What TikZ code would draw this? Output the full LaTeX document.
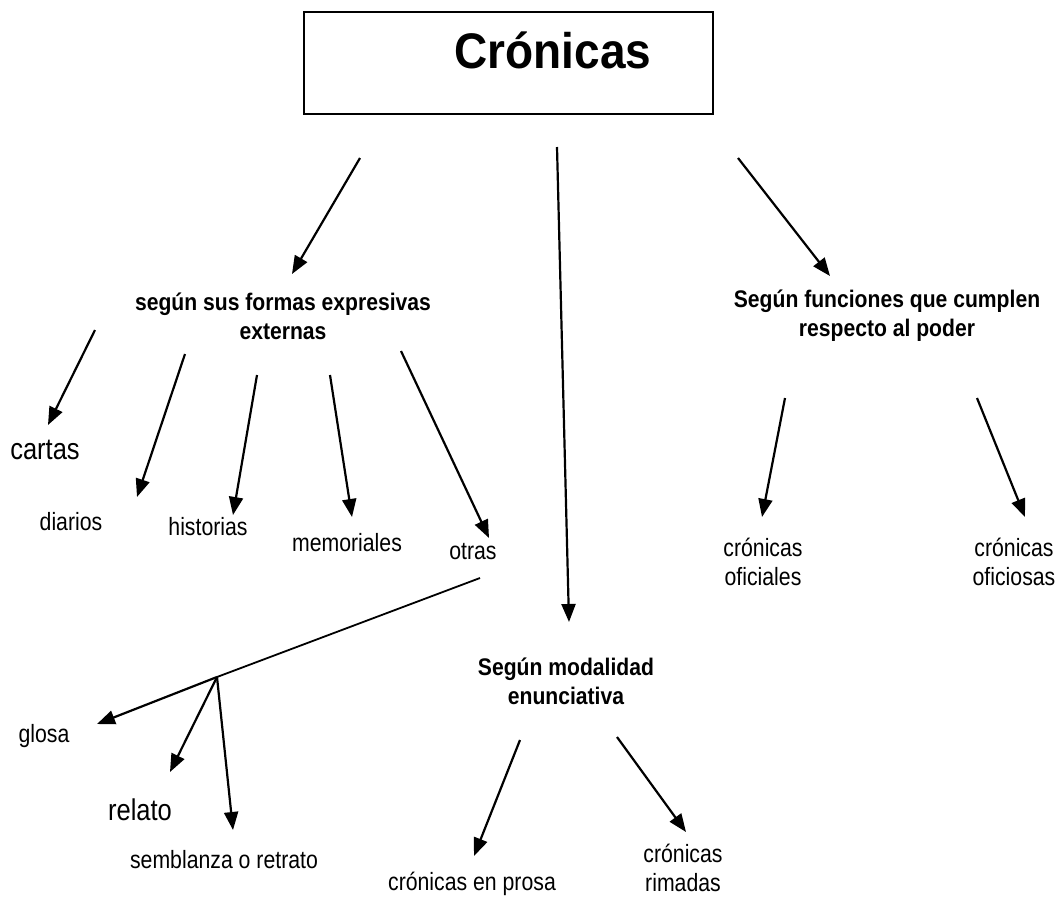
\documentclass[tikz,border=0pt]{standalone}
\usepackage{fontspec}
\setmainfont{Liberation Sans}[FakeStretch=0.85]
\newfontfamily\hdrfont{Liberation Sans}[FakeStretch=0.88]
\newfontfamily\titlefont{Liberation Sans}[FakeStretch=0.92]
\usetikzlibrary{arrows.meta}
\begin{document}
\begin{tikzpicture}[x=1pt,y=-1pt,
  arr/.style={line width=2.2pt,-{Triangle[length=18pt,width=14pt]}},
  thin/.style={line width=1.8pt},
  lbl/.style={font=\fontsize{25}{29}\selectfont, align=center, inner sep=0},
  hdr/.style={font=\hdrfont\bfseries\fontsize{24}{29}\selectfont, align=center, inner sep=0},
  big/.style={font=\fontsize{30}{34}\selectfont, inner sep=0}]
\useasboundingbox[fill=white] (0,0) rectangle (1060,898);
% title box
\node[draw, line width=1.5pt, minimum width=409pt, minimum height=102pt, inner sep=0] (box) at (508.5,63) {};
\node[font=\titlefont\bfseries\fontsize{50}{54}\selectfont, anchor=base, inner sep=0] (title) at (553,68) {Crónicas};
% labels
\node[hdr] (h1) at (283,316) {según sus formas expresivas\\externas};
\node[hdr] (h2) at (887,316) {Según funciones que cumplen\\respecto al poder};
\node[hdr] (h3) at (566,681) {Según modalidad\\enunciativa};
\node[big] (cartas) at (45,450) {cartas};
\node[lbl] (diarios) at (71,522) {diarios};
\node[lbl] (historias) at (208,527) {historias};
\node[lbl] (memoriales) at (347,543) {memoriales};
\node[lbl] (otras) at (473,552) {otras};
\node[lbl] (oficiales) at (763,562) {crónicas\\oficiales};
\node[lbl] (oficiosas) at (1014,562) {crónicas\\oficiosas};
\node[lbl] (glosa) at (44,736) {glosa};
\node[big] (relato) at (140,810) {relato};
\node[lbl] (semblanza) at (224,860) {semblanza o retrato};
\node[lbl] (prosa) at (472,884) {crónicas en prosa};
\node[lbl] (rimadas) at (683,868) {crónicas\\rimadas};
% arrow end points
\coordinate (t1s) at (360,158); \coordinate (t1e) at (292,274);
\coordinate (t2s) at (557,147); \coordinate (t2e) at (569,622);
\coordinate (t3s) at (738,158); \coordinate (t3e) at (830,276);
\coordinate (a1s) at (95,330);  \coordinate (a1e) at (48,425);
\coordinate (a2s) at (185,354); \coordinate (a2e) at (137,497);
\coordinate (a3s) at (257,375); \coordinate (a3e) at (233,515);
\coordinate (a4s) at (330,375); \coordinate (a4e) at (352,517);
\coordinate (a5s) at (401,351); \coordinate (a5e) at (489,538);
\coordinate (b1s) at (785,398); \coordinate (b1e) at (762,517);
\coordinate (b2s) at (977,398); \coordinate (b2e) at (1025,517);
\coordinate (os) at (480,578);  \coordinate (junc) at (217,677);
\coordinate (ge) at (97,724);
\coordinate (re) at (170,772);
\coordinate (se) at (233,830);
\coordinate (m1s) at (520,740); \coordinate (m1e) at (474,856);
\coordinate (m2s) at (617,737); \coordinate (m2e) at (686,832);
% arrows
\draw[arr] (t1s) -- (t1e);
\draw[arr] (t2s) -- (t2e);
\draw[arr] (t3s) -- (t3e);
\draw[arr] (a1s) -- (a1e);
\draw[arr] (a2s) -- (a2e);
\draw[arr] (a3s) -- (a3e);
\draw[arr] (a4s) -- (a4e);
\draw[arr] (a5s) -- (a5e);
\draw[arr] (b1s) -- (b1e);
\draw[arr] (b2s) -- (b2e);
\draw[thin] (os) -- (junc);
\draw[arr] (junc) -- (ge);
\draw[arr] (junc) -- (re);
\draw[arr] (junc) -- (se);
\draw[arr] (m1s) -- (m1e);
\draw[arr] (m2s) -- (m2e);
\end{tikzpicture}
\end{document}
